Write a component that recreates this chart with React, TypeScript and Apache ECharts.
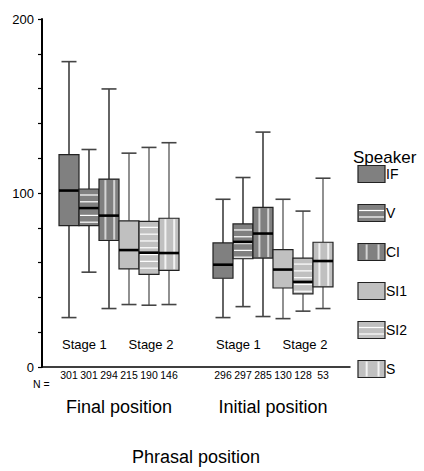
import React, { useEffect, useRef } from 'react';
import * as echarts from 'echarts';

// Phrasal positions on the category axis
const positions = ['Final position', 'Initial position'];
const stageLabels = ['Stage 1', 'Stage 2'];
const speakers = ['IF', 'V', 'CI', 'SI1', 'SI2', 'S'];
const yTickLabels = [0, 100, 200];

// [low whisker, Q1, median, Q3, high whisker] for Final / Initial position
const ifStats = [[28.4, 81.2, 101.4, 122, 175.5], [28.4, 51, 58.8, 71.3, 96.4]];
const vStats = [[54.5, 81.2, 91.3, 102.3, 125], [34.7, 62.2, 71.9, 82.2, 108.9]];
const ciStats = [[33.6, 72.7, 87, 108, 159.8], [29, 62.6, 76.7, 91.7, 135]];
const si1Stats = [[35.9, 56.4, 67.2, 84, 122.9], [27.8, 45.4, 56, 67.4, 96.4]];
const si2Stats = [[35.5, 53.2, 65.7, 83.7, 126.2], [32.1, 42, 48.9, 62.6, 89.6]];
const sStats = [[35.9, 55.5, 65.5, 85.5, 128.9], [33.6, 46.1, 60.9, 71.7, 108.5]];

// Number of tokens per box
const ifN = [301, 296];
const vN = [301, 297];
const ciN = [294, 285];
const si1N = [215, 130];
const si2N = [190, 128];
const sN = [146, 53];

const FONT = 'Liberation Sans, Arial, sans-serif';
const DARK = '#808080';
const LIGHT = '#c0c0c0';

type Fill = { color: string; stripes: 'none' | 'h' | 'v'; stripeColor: string; whisker: string };
const fills: Fill[] = [
  { color: DARK, stripes: 'none', stripeColor: '#fff', whisker: '#111' },
  { color: DARK, stripes: 'h', stripeColor: '#fff', whisker: '#111' },
  { color: DARK, stripes: 'v', stripeColor: '#d4d4d4', whisker: '#111' },
  { color: LIGHT, stripes: 'none', stripeColor: '#fff', whisker: '#555' },
  { color: LIGHT, stripes: 'h', stripeColor: '#fff', whisker: '#555' },
  { color: LIGHT, stripes: 'v', stripeColor: '#f2f2f2', whisker: '#555' },
];

const allStats = [ifStats, vStats, ciStats, si1Stats, si2Stats, sStats];
const allN = [ifN, vN, ciN, si1N, si2N, sN];

// Patterned rectangle: fill + stripes + border
function patternRect(x: number, y: number, w: number, h: number, f: Fill, gap: number) {
  const els: any[] = [
    { type: 'rect', shape: { x, y, width: w, height: h }, style: { fill: f.color, stroke: 'none' } },
  ];
  if (f.stripes === 'h') {
    for (let yy = y + 6; yy < y + h - 1; yy += gap) {
      els.push({ type: 'line', shape: { x1: x + 1, y1: yy, x2: x + w - 1, y2: yy }, style: { stroke: f.stripeColor, lineWidth: 1.2 } });
    }
  } else if (f.stripes === 'v') {
    const offs = [0.32, 0.76];
    offs.forEach((o) => {
      const xx = x + w * o;
      els.push({ type: 'line', shape: { x1: xx, y1: y + 1, x2: xx, y2: y + h - 1 }, style: { stroke: f.stripeColor, lineWidth: 2 } });
    });
  }
  els.push({ type: 'rect', shape: { x, y, width: w, height: h }, style: { fill: 'none', stroke: '#222', lineWidth: 1.2 } });
  return els;
}

const BOX_FRAC = 20 / 154;

function makeBoxSeries(k: number) {
  const f = fills[k];
  const data = positions.map((_, i) => [i, ...allStats[k][i], allN[k][i]]);
  return {
    type: 'custom',
    name: speakers[k],
    data,
    clip: false,
    silent: true,
    encode: { x: 0, y: [1, 2, 3, 4, 5] },
    renderItem: (params: any, api: any) => {
      const cat = api.value(0);
      const band = api.size([1, 0])[0];
      const bw = band * BOX_FRAC;
      const base = api.coord([cat, 0]);
      const x0 = base[0] + (k - 3) * bw;
      const cx = x0 + bw / 2;
      const yLow = api.coord([cat, api.value(1)])[1];
      const yQ1 = api.coord([cat, api.value(2)])[1];
      const yMed = api.coord([cat, api.value(3)])[1];
      const yQ3 = api.coord([cat, api.value(4)])[1];
      const yHigh = api.coord([cat, api.value(5)])[1];
      const capW = 7.5;
      const children: any[] = [
        { type: 'line', shape: { x1: cx, y1: yHigh, x2: cx, y2: yQ3 }, style: { stroke: f.whisker, lineWidth: 1.3 } },
        { type: 'line', shape: { x1: cx, y1: yQ1, x2: cx, y2: yLow }, style: { stroke: f.whisker, lineWidth: 1.3 } },
        { type: 'line', shape: { x1: cx - capW, y1: yHigh, x2: cx + capW, y2: yHigh }, style: { stroke: '#444', lineWidth: 1.6 } },
        { type: 'line', shape: { x1: cx - capW, y1: yLow, x2: cx + capW, y2: yLow }, style: { stroke: '#444', lineWidth: 1.6 } },
        ...patternRect(x0, yQ3, bw, yQ1 - yQ3, f, 6.8),
        { type: 'line', shape: { x1: x0, y1: yMed, x2: x0 + bw, y2: yMed }, style: { stroke: '#000', lineWidth: 2.6 } },
        {
          type: 'text',
          x: cx,
          y: base[1] + 8,
          style: { text: String(api.value(6)), fill: '#000', fontSize: 10.5, fontFamily: FONT, align: 'center', verticalAlign: 'middle' },
        },
      ];
      return { type: 'group', children };
    },
  };
}

const stageOffsets = [-1.73, 1.6];
const stageData: number[][] = [];
positions.forEach((_, i) => stageLabels.forEach((_, s) => stageData.push([i, s])));

const stageSeries = {
  type: 'custom',
  name: 'stages',
  data: stageData,
  clip: false,
  silent: true,
  encode: { x: 0 },
  renderItem: (params: any, api: any) => {
    const cat = api.value(0);
    const s = api.value(1);
    const bw = api.size([1, 0])[0] * BOX_FRAC;
    const p = api.coord([cat, 13]);
    return {
      type: 'text',
      x: p[0] + stageOffsets[s] * bw,
      y: p[1],
      style: { text: stageLabels[s], fill: '#000', fontSize: 13, fontFamily: FONT, align: 'center', verticalAlign: 'middle' },
    };
  },
};

function legendGraphics() {
  const els: any[] = [
    { type: 'text', x: 353, y: 157, style: { text: 'Speaker', fill: '#000', fontSize: 17, fontFamily: FONT, verticalAlign: 'middle' } },
  ];
  speakers.forEach((name, k) => {
    const cy = 174 + k * 39;
    els.push({ type: 'group', children: patternRect(358, cy - 8.5, 27, 17, fills[k], 6.5) });
    els.push({ type: 'text', x: 386, y: cy, style: { text: name, fill: '#000', fontSize: 14, fontFamily: FONT, verticalAlign: 'middle' } });
  });
  els.push({ type: 'text', x: 33, y: 384, style: { text: 'N =', fill: '#000', fontSize: 10.5, fontFamily: FONT, verticalAlign: 'middle' } });
  return els;
}

export default function App() {
  const ref = useRef<HTMLDivElement>(null);
  useEffect(() => {
    if (!ref.current) return;
    const chart = echarts.init(ref.current, undefined, { renderer: 'svg' });
    chart.setOption({
      animation: false,
      backgroundColor: '#fff',
      textStyle: { fontFamily: FONT, color: '#000' },
      grid: { left: 42, top: 19, right: 74, bottom: 95, containLabel: false },
      xAxis: {
        type: 'category',
        data: positions,
        axisLine: { lineStyle: { color: '#000', width: 1.5 } },
        axisTick: { alignWithLabel: true, length: 4, lineStyle: { color: '#000', width: 2 } },
        axisLabel: { fontSize: 18, color: '#000', margin: 31, fontFamily: FONT },
        name: 'Phrasal position',
        nameLocation: 'middle',
        nameGap: 81,
        nameTextStyle: { fontSize: 18, color: '#000', fontFamily: FONT },
        splitLine: { show: false },
      },
      yAxis: {
        type: 'value',
        min: 0,
        max: 200,
        interval: 20,
        axisLine: { show: true, lineStyle: { color: '#000', width: 2 } },
        axisTick: { show: true, length: 4, lineStyle: { color: '#000', width: 1.2 } },
        axisLabel: {
          fontSize: 13,
          color: '#000',
          margin: 8,
          fontFamily: FONT,
          formatter: (v: number) => (yTickLabels.includes(v) ? String(v) : ''),
        },
        splitLine: { show: false },
      },
      graphic: legendGraphics(),
      series: [...speakers.map((_, k) => makeBoxSeries(k)), stageSeries],
    });
    return () => chart.dispose();
  }, []);
  return <div ref={ref} style={{ position: 'absolute', left: 0, top: 0, width: 424, height: 471 }} />;
}
